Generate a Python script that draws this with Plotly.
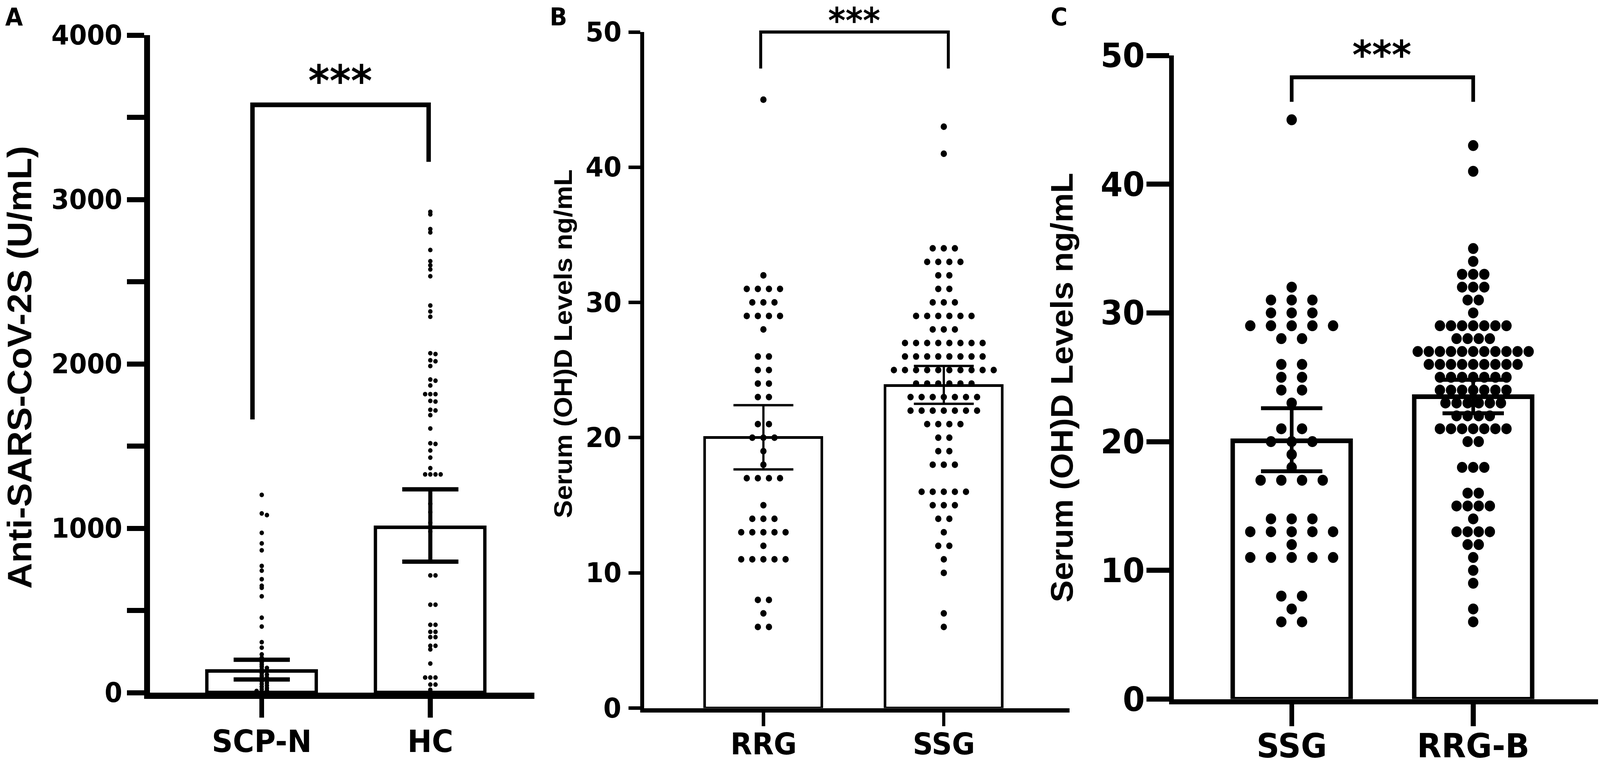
import plotly.graph_objects as go

W, H = 4328, 1967

# ---------------------------------------------------------------------------
# Values
# ---------------------------------------------------------------------------
# Panel A: Anti-SARS-CoV-2S (U/mL)
A_CATEGORIES = ["SCP-N", "HC"]
A_MEANS = [130, 1005]
A_ERR_LOW = [80, 797]
A_ERR_HIGH = [200, 1237]
A_SCPN = [1203, 1090, 1080, 972, 908, 866, 771, 742, 690, 650, 638, 586,
          456, 402, 307, 274, 233, 212, 198, 185, 172, 160, 150, 140, 130,
          120, 110, 100, 92, 84, 76, 68, 60, 52, 44, 36, 28, 20, 14, 10, 6]
A_HC = [2925, 2910, 2820, 2800, 2693, 2625, 2600, 2575, 2533, 2355, 2319,
        2287, 2065, 2060, 2022, 2016, 1987, 1905, 1898, 1869, 1816, 1816,
        1816, 1775, 1771, 1721, 1717, 1688, 1607, 1517, 1513, 1473, 1430,
        1366, 1328, 1328, 1328, 1328, 1149, 1098, 1034, 980, 713, 713, 535,
        535, 413, 413, 370, 370, 338, 338, 285, 285, 263, 177, 92, 92, 92,
        49, 49, 17]
A_YTICKS = [0, 500, 1000, 1500, 2000, 2500, 3000, 3500, 4000]
A_YLABELS = [0, 1000, 2000, 3000, 4000]

# Panel B: Serum (OH)D levels, integer levels with number of subjects
B_CATEGORIES = ["RRG", "SSG"]
B_MEANS = [20.0, 23.85]
B_ERR_LOW = [17.65, 22.5]
B_ERR_HIGH = [22.4, 25.3]
B_RRG_LEVELS = [45, 32, 31, 30, 29, 28, 26, 25, 24, 23, 21, 20, 19, 18, 17,
                15, 14, 13, 12, 11, 8, 7, 6]
B_RRG_COUNTS = [1, 1, 4, 3, 4, 1, 2, 2, 2, 2, 2, 3, 1, 1, 4,
                1, 3, 5, 1, 5, 2, 1, 2]
B_SSG_LEVELS = [43, 41, 34, 33, 32, 31, 30, 29, 28, 27, 26, 25, 24, 23, 22,
                21, 20, 19, 18, 16, 15, 14, 13, 12, 11, 10, 7, 6]
B_SSG_COUNTS = [1, 1, 3, 4, 2, 2, 3, 6, 3, 8, 8, 10, 6, 7, 7,
                4, 2, 2, 3, 5, 3, 2, 1, 2, 1, 1, 1, 1]

# Panel C
C_CATEGORIES = ["SSG", "RRG-B"]
C_MEANS = [20.05, 23.5]
C_ERR_LOW = [17.7, 22.2]
C_ERR_HIGH = [22.6, 24.8]
C_SSG_LEVELS = [45, 32, 31, 30, 29, 28, 26, 25, 24, 23, 21, 20, 19, 18, 17,
                14, 13, 12, 11, 8, 7, 6]
C_SSG_COUNTS = [1, 1, 3, 3, 5, 2, 2, 2, 2, 1, 2, 3, 1, 1, 4,
                3, 5, 1, 5, 2, 1, 2]
C_RRGB_LEVELS = [43, 41, 35, 34, 33, 32, 31, 30, 29, 28, 27, 26, 25, 24, 23,
                 22, 21, 20, 18, 16, 15, 14, 13, 12, 11, 10, 9, 7, 6]
C_RRGB_COUNTS = [1, 1, 1, 1, 3, 3, 2, 1, 7, 4, 11, 9, 7, 7, 6,
                 4, 7, 2, 3, 2, 4, 1, 4, 2, 1, 1, 1, 1, 1]

BC_YTICKS = [0, 10, 20, 30, 40, 50]

# significance brackets: (left x, right x, top y, left leg end, right leg end)
A_BRACKET = (-0.055, 0.99, 3576, 1662, 3229)
B_BRACKET = (-0.015, 1.025, 50, 47.3, 47.3)
C_BRACKET = (0.0, 1.0, 48.3, 46.4, 46.4)

Y_TITLE_A = "Anti-SARS-CoV-2S (U/mL)"
Y_TITLE_BC = "Serum (OH)D Levels ng/mL"
STARS = "***"

LABEL_FONT = "DejaVu Sans"
TITLE_FONT = "Liberation Sans, Arial, sans-serif"

# ---------------------------------------------------------------------------
# Geometry / style per panel (pixels on the page, measured on the reference)
#   axis_x / axis_y : centre of the y / x axis lines
# ---------------------------------------------------------------------------
PANELS = [
    dict(axis_x=398, right=1446, top=90, axis_y=1782, cat_px=(708, 1164),
         ymax=4000, line_w=16, ytick_vis=39, xtick_vis=40, tick_w=13,
         bar_line=9, err_w=11, cap=76, bracket_w=12,
         ylab_size=69, ylab_right=328, xlab_size=79, xlab_cap_top=1869,
         title_x=53, title_y=941, title_size=92,
         stars_x=920, stars_y=188, stars_size=110,
         letter="A", letter_x=14),
    dict(axis_x=1737, right=2893, top=82, axis_y=1819, cat_px=(2065, 2553),
         ymax=50, line_w=11, ytick_vis=26, xtick_vis=30, tick_w=9,
         bar_line=7, err_w=6, cap=81, bracket_w=8,
         ylab_size=70, ylab_right=1677, xlab_size=76, xlab_cap_top=1876,
         title_x=1524, title_y=881, title_size=69,
         stars_x=2310, stars_y=36, stars_size=90,
         letter="B", letter_x=1487),
    dict(axis_x=3169, right=4323, top=142, axis_y=1797, cat_px=(3494, 3985),
         ymax=50, line_w=13, ytick_vis=55, xtick_vis=50, tick_w=13,
         bar_line=12, err_w=10, cap=83, bracket_w=10,
         ylab_size=86, ylab_right=3093, xlab_size=86, xlab_cap_top=1877,
         title_x=2872, title_y=993, title_size=85,
         stars_x=3738, stars_y=122, stars_size=102,
         letter="C", letter_x=2842),
]
LETTER_CAP_TOP = 19
LETTER_SIZE = 62

# DejaVu Sans metrics (em): ascent above cap height, glyph centre of '*'
ASC_OVER_CAP = 0.928 - 0.729
STAR_LIFT = 0.18
PAD = 2  # annotation borderpad + borderwidth


def row_layout(levels, counts):
    """Spread equal values side by side, centred on the category."""
    offs, vals = [], []
    for v, n in zip(levels, counts):
        for k in range(n):
            offs.append(k - (n - 1) / 2)
            vals.append(v)
    return offs, vals


def swarm_layout(values, gap):
    """Greedy beeswarm: push a point sideways only if it would overlap."""
    placed = []
    slots = [0]
    for i in range(1, 40):
        slots += [i, -i]
    for v in sorted(values, reverse=True):
        for s in slots:
            if all(abs(v - pv) >= gap for pv, ps in placed if ps == s):
                break
        placed.append((v, s))
    return [s for _, s in placed], [v for v, _ in placed]


fig = go.Figure()


def label(s, x, y, size, xref="paper", yref="paper", xanchor="center",
          yanchor="middle", family=LABEL_FONT, angle=0):
    if xref == "paper":
        x = x / W
    if yref == "paper":
        y = 1 - y / H
    fig.add_annotation(
        text=s, x=x, y=y, xref=xref, yref=yref, xanchor=xanchor,
        yanchor=yanchor, showarrow=False, textangle=angle,
        font=dict(family=family, size=size, color="black", weight="bold"),
    )


def add_panel(i, p, categories, means, lo, hi, groups, bracket, yticks, ylabels):
    suffix = "" if i == 1 else str(i)
    xa, ya = f"x{suffix}", f"y{suffix}"
    half = p["line_w"] / 2
    left = p["axis_x"] + half
    bottom = p["axis_y"] - half
    c0, c1 = p["cat_px"]
    px_per_unit = c1 - c0
    xr = [(left - c0) / px_per_unit, (p["right"] - c0) / px_per_unit]

    fig.add_trace(go.Bar(
        x=[0, 1], y=means, width=0.65, xaxis=xa, yaxis=ya,
        marker=dict(color="white", line=dict(color="black", width=p["bar_line"])),
        showlegend=False, hoverinfo="skip",
    ))

    for gi, (offs, vals, slot_px, dot) in enumerate(groups):
        xs = [gi + o * slot_px / px_per_unit for o in offs]
        fig.add_trace(go.Scatter(
            x=xs, y=vals, mode="markers", xaxis=xa, yaxis=ya,
            marker=dict(color="black", size=dot, line=dict(width=0)),
            showlegend=False, hoverinfo="y",
        ))

    fig.add_trace(go.Scatter(
        x=[0, 1], y=means, mode="markers", xaxis=xa, yaxis=ya,
        marker=dict(size=1, opacity=0),
        error_y=dict(type="data", symmetric=False,
                     array=[h - m for h, m in zip(hi, means)],
                     arrayminus=[m - l for m, l in zip(means, lo)],
                     color="black", thickness=p["err_w"], width=p["cap"]),
        showlegend=False, hoverinfo="skip",
    ))

    # bracket, in axis-domain fractions so it is not clipped at the top
    x0, x1, yt, yl, yr = bracket
    fx = lambda v: (v - xr[0]) / (xr[1] - xr[0])
    fy = lambda v: v / p["ymax"]
    fig.add_shape(
        type="path", xref=f"{xa} domain", yref=f"{ya} domain",
        path=f"M{fx(x0)},{fy(yl)} L{fx(x0)},{fy(yt)} L{fx(x1)},{fy(yt)} L{fx(x1)},{fy(yr)}",
        line=dict(color="black", width=p["bracket_w"]),
    )

    axis_style = dict(showline=True, linecolor="black", linewidth=p["line_w"],
                      ticks="outside", tickwidth=p["tick_w"], tickcolor="black",
                      showgrid=False, zeroline=False, showticklabels=False)
    fig.update_layout(**{
        f"xaxis{suffix}": dict(
            domain=[left / W, p["right"] / W], anchor=ya, range=xr,
            tickvals=[0, 1], ticklen=p["xtick_vis"] + half, **axis_style),
        f"yaxis{suffix}": dict(
            domain=[1 - bottom / H, 1 - p["top"] / H], anchor=xa,
            range=[0, p["ymax"]], tickvals=yticks,
            ticklen=p["ytick_vis"] + half, **axis_style),
    })

    # tick labels placed on the axis scales
    for v in ylabels:
        label(str(v), p["ylab_right"] + 0.05 * p["ylab_size"] + PAD, v,
              p["ylab_size"], yref=ya, xanchor="right")
    for k, c in enumerate(categories):
        label(c, k, p["xlab_cap_top"] - ASC_OVER_CAP * p["xlab_size"] - PAD,
              p["xlab_size"], xref=xa, yanchor="top")

    # axis title, significance stars and panel letter
    label(Y_TITLE_A if i == 1 else Y_TITLE_BC, p["title_x"], p["title_y"],
          p["title_size"], family=TITLE_FONT, angle=-90)
    label(STARS, p["stars_x"], p["stars_y"] + STAR_LIFT * p["stars_size"],
          p["stars_size"])
    label(p["letter"], p["letter_x"] - PAD,
          LETTER_CAP_TOP - ASC_OVER_CAP * LETTER_SIZE - PAD, LETTER_SIZE,
          xanchor="left", yanchor="top")


pa, pb, pc = PANELS
a_groups = [
    (*swarm_layout(A_SCPN, 12), 14, 12),
    (*swarm_layout(A_HC, 12), 14, 12),
]
b_groups = [
    (*row_layout(B_RRG_LEVELS, B_RRG_COUNTS), 30, 17),
    (*row_layout(B_SSG_LEVELS, B_SSG_COUNTS), 30, 17),
]
c_groups = [
    (*row_layout(C_SSG_LEVELS, C_SSG_COUNTS), 56, 28),
    (*row_layout(C_RRGB_LEVELS, C_RRGB_COUNTS), 30, 28),
]
add_panel(1, pa, A_CATEGORIES, A_MEANS, A_ERR_LOW, A_ERR_HIGH, a_groups,
          A_BRACKET, A_YTICKS, A_YLABELS)
add_panel(2, pb, B_CATEGORIES, B_MEANS, B_ERR_LOW, B_ERR_HIGH, b_groups,
          B_BRACKET, BC_YTICKS, BC_YTICKS)
add_panel(3, pc, C_CATEGORIES, C_MEANS, C_ERR_LOW, C_ERR_HIGH, c_groups,
          C_BRACKET, BC_YTICKS, BC_YTICKS)

fig.update_layout(
    width=W, height=H,
    margin=dict(l=0, r=0, t=0, b=0),
    plot_bgcolor="white", paper_bgcolor="white",
    bargap=0,
)

# fit the fixed-size figure to whatever viewport the page is opened in
FIT_JS = """
var gd = document.getElementById('{plot_id}');
var vw = window.innerWidth || %d, vh = window.innerHeight || %d;
document.documentElement.style.overflow = 'hidden';
document.body.style.margin = '0';
document.body.style.overflow = 'hidden';
var wrap = gd.parentElement;
wrap.style.width = vw + 'px';
wrap.style.height = vh + 'px';
wrap.style.overflow = 'hidden';
gd.style.transformOrigin = '0 0';
gd.style.transform = 'scale(' + (vw / %d) + ',' + (vh / %d) + ')';
""" % (W, H, W, H)

fig.write_html("out.html", config={"displayModeBar": False}, post_script=FIT_JS)
